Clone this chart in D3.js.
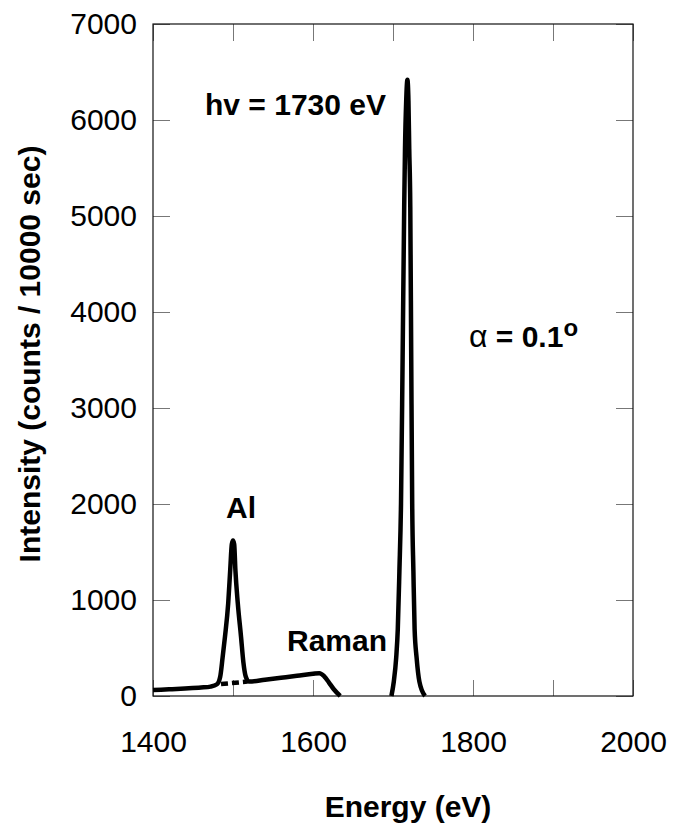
<!DOCTYPE html>
<html>
<head>
<meta charset="utf-8">
<script src="https://cdn.jsdelivr.net/npm/d3@7"></script>
<style>
  body { margin: 0; background: #fff; }
  svg { font-family: Arial, "Liberation Sans", sans-serif; }
</style>
</head>
<body>
<svg id="chart" width="674" height="831"></svg>
<script>
// Al peak + Raman shoulder (eV, counts)
const lowEnergy = [1400, 1420, 1440, 1460, 1472, 1480, 1484, 1487, 1490, 1494, 1496.5, 1498.5, 1500,
  1501.5, 1503, 1506, 1510, 1513, 1516, 1520, 1540, 1560, 1580, 1600, 1608, 1614, 1620, 1626, 1634];
const lowCounts = [62, 70, 78, 88, 98, 122, 200, 400, 620, 965, 1310, 1580, 1620,
  1580, 1310, 965, 620, 350, 200, 150, 170, 190, 210, 232, 238, 205, 140, 70, 0];

// main elastic peak
const peakEnergy = [1698, 1701, 1704, 1706, 1708, 1710, 1712, 1714, 1715, 1716.5, 1718,
  1719.3, 1720.3, 1721.6, 1722.8, 1724, 1725.5, 1727, 1729.5, 1733, 1740];
const peakCounts = [0, 150, 400, 700, 1300, 2000, 3500, 5100, 5700, 6200, 6420,
  6200, 5700, 5100, 3500, 2000, 1300, 700, 400, 150, 0];

// dashed background under Al peak
const bgEnergy = [1485, 1518];
const bgCounts = [124, 150];

const xTicks = [1400, 1500, 1600, 1700, 1800, 1900, 2000];
const xLabels = [1400, 1600, 1800, 2000];
const yTicks = [0, 1000, 2000, 3000, 4000, 5000, 6000, 7000];

const SVG = d3.select("#chart");
const LEFT = 153, RIGHT = 633, TOP = 24, BOTTOM = 696;

const X = d3.scaleLinear().domain([1400, 2000]).range([LEFT, RIGHT]);
const Y = d3.scaleLinear().domain([0, 7000]).range([BOTTOM, TOP]);

// axes with inward ticks
const xAxisB = d3.axisBottom(X).tickValues(xTicks).tickSizeInner(-16).tickSizeOuter(0)
  .tickPadding(35).tickFormat(d => xLabels.includes(d) ? d : "");
const xAxisT = d3.axisTop(X).tickValues(xTicks).tickSizeInner(-17).tickSizeOuter(0).tickFormat("");
const yAxisL = d3.axisLeft(Y).tickValues(yTicks).tickSizeInner(-17).tickSizeOuter(0)
  .tickPadding(16).tickFormat(d3.format("d"));
const yAxisR = d3.axisRight(Y).tickValues(yTicks).tickSizeInner(-17).tickSizeOuter(0).tickFormat("");

function styleAxis(g) {
  g.select(".domain").remove();
  g.selectAll(".tick line").attr("stroke", "#777").attr("stroke-width", 1);
  g.selectAll(".tick text").attr("fill", "#000").style("font-size", "30px");
}

SVG.append("g").attr("transform", `translate(0,${BOTTOM})`).call(xAxisB).call(styleAxis);
SVG.append("g").attr("transform", `translate(0,${TOP})`).call(xAxisT).call(styleAxis);
SVG.append("g").attr("transform", `translate(${LEFT},0)`).call(yAxisL).call(styleAxis);
SVG.append("g").attr("transform", `translate(${RIGHT},0)`).call(yAxisR).call(styleAxis);

// frame
SVG.append("rect")
  .attr("x", LEFT).attr("y", TOP)
  .attr("width", RIGHT - LEFT).attr("height", BOTTOM - TOP)
  .attr("fill", "none").attr("stroke", "#111").attr("stroke-width", 1.2);

const line = d3.line().x(d => X(d[0])).y(d => Y(d[1])).curve(d3.curveMonotoneX);

function drawSeries(xs, ys, dash) {
  SVG.append("path")
    .datum(xs.map((e, i) => [e, ys[i]]))
    .attr("d", line)
    .attr("fill", "none")
    .attr("stroke", "#000")
    .attr("stroke-width", 4.5)
    .attr("stroke-linejoin", "round")
    .attr("stroke-dasharray", dash || null);
}
drawSeries(bgEnergy, bgCounts, "7,4");
drawSeries(lowEnergy, lowCounts);
drawSeries(peakEnergy, peakCounts);

// titles
SVG.append("text")
  .attr("x", 408).attr("y", 817)
  .attr("text-anchor", "middle")
  .style("font-size", "30px").style("font-weight", "bold")
  .text("Energy (eV)");

SVG.append("text")
  .attr("transform", "translate(40,354) rotate(-90)")
  .attr("text-anchor", "middle")
  .style("font-size", "30px").style("font-weight", "bold")
  .text("Intensity (counts / 10000 sec)");

// annotations
function note(x, y, txt) {
  return SVG.append("text").attr("x", x).attr("y", y)
    .style("font-size", "30px").style("font-weight", "bold").text(txt);
}
note(205, 115, "hv = 1730 eV");
note(226, 518, "Al");
note(287, 651, "Raman");

const alpha = SVG.append("text").attr("x", 469).attr("y", 347).style("font-size", "30px");
alpha.append("tspan").style("font-size", "32px").text("α");
alpha.append("tspan").style("font-weight", "bold").text(" = 0.1");
alpha.append("tspan").style("font-weight", "bold").style("font-size", "24px").attr("dy", -11).text("o");
</script>
</body>
</html>
